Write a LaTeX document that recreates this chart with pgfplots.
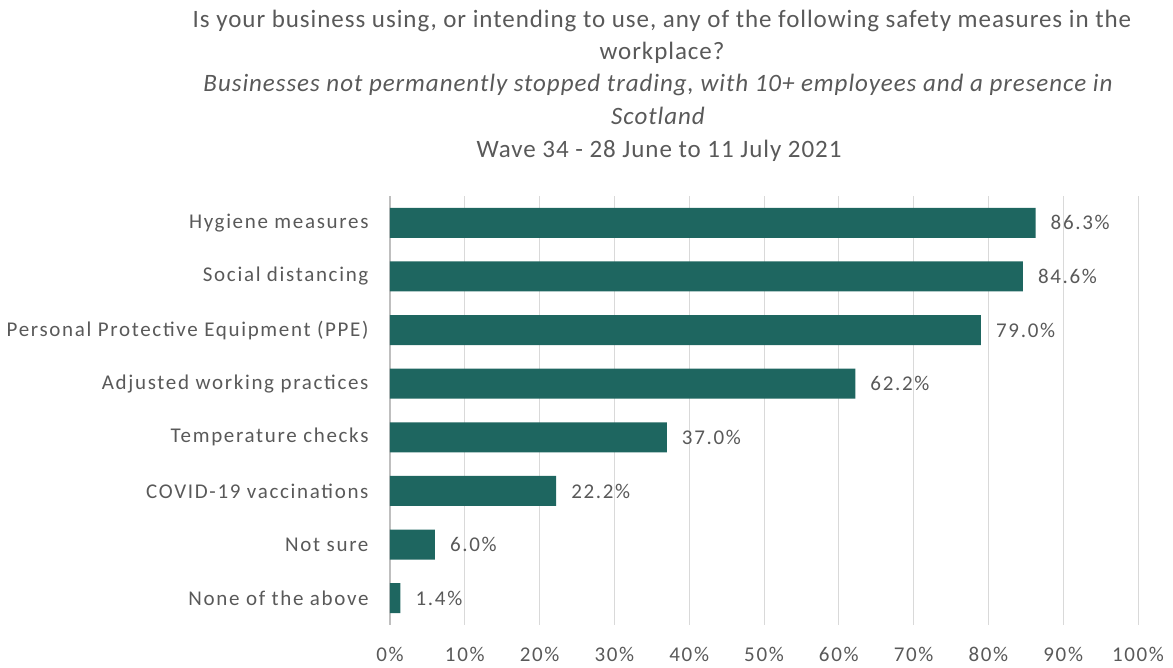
\documentclass[border=0pt]{standalone}
\usepackage{pgfplots}
\pgfplotsset{compat=1.18}
\usepackage{fontspec}
\setmainfont{Carlito}
\definecolor{barc}{HTML}{1E6660}
\definecolor{txt}{HTML}{595959}
\definecolor{gridc}{HTML}{D9D9D9}
\definecolor{axc}{HTML}{BFBFBF}
\newcommand\tfont{\fontsize{25}{30}\selectfont\addfontfeature{LetterSpace=3.8}}
\newcommand\lfont{\fontsize{21}{25}\selectfont\addfontfeature{LetterSpace=8}}
\begin{document}
\begin{tikzpicture}[x=1pt,y=1pt]
\useasboundingbox (0,0) rectangle (1173,668);
\begin{scope}[font=\tfont, text=txt]
\node[anchor=base] at (662,640) {Is your business using, or intending to use, any of the following safety measures in the};
\node[anchor=base] at (662,608) {workplace?};
\node[anchor=base] at (658,576) {\itshape Businesses not permanently stopped trading, with 10+ employees and a presence in};
\node[anchor=base] at (658,543) {\itshape Scotland};
\node[anchor=base] at (659,510) {Wave 34 - 28 June to 11 July 2021};
\end{scope}
\begin{axis}[at={(390pt,43pt)}, anchor=south west, scale only axis,
  width=748pt, height=429pt,
  xbar, xmin=0, xmax=100, ymin=-0.5, ymax=7.5, y dir=reverse,
  bar width=30pt,
  xtick={0,10,...,100},
  xticklabel={\pgfmathprintnumber[assume math mode=true]{\tick}\%},
  ytick={0,...,7},
  yticklabels={Hygiene measures,Social distancing,Personal Protective Equipment (PPE),Adjusted working practices,Temperature checks,COVID-19 vaccinations,Not sure,None of the above},
  xmajorgrids, major grid style={gridc, line width=1pt},
  axis x line*=bottom, axis y line*=left,
  x axis line style={draw=none},
  y axis line style={axc, line width=1.2pt, -},
  major tick length=0pt,
  tick label style={font=\lfont, text=txt},
  yticklabel style={xshift=-18pt},
  xticklabel style={yshift=-19pt},
  nodes near coords={\pgfmathprintnumber[fixed, fixed zerofill, precision=1, assume math mode=true]{\pgfplotspointmeta}\%},
  nodes near coords style={anchor=west, inner sep=0pt, xshift=15pt, font=\lfont, text=txt},
]
\addplot[fill=barc, draw=none] coordinates {(86.3,0) (84.6,1) (79.0,2) (62.2,3) (37.0,4) (22.2,5) (6.0,6) (1.4,7)};
\end{axis}
\end{tikzpicture}
\end{document}
